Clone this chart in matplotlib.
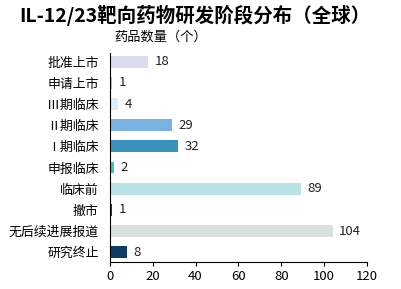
import matplotlib.pyplot as plt

plt.rcParams['font.family'] = ['Noto Sans CJK SC', 'DejaVu Sans']

# Data (top to bottom as shown)
stages = ['批准上市', '申请上市', 'Ⅲ期临床', 'Ⅱ期临床', 'Ⅰ期临床',
          '申报临床', '临床前', '撤市', '无后续进展报道', '研究终止']
counts = [18, 1, 4, 29, 32, 2, 89, 1, 104, 8]
colors = ['#dcdcf0', '#bdbdbd', '#dcedf9', '#78b3e1', '#3a93bf',
          '#3fc7b3', '#b8e2e8', '#1b3c5a', '#d8e1dc', '#0e3c66']
xticks = [0, 20, 40, 60, 80, 100, 120]

fig = plt.figure(figsize=(4.01, 2.89), dpi=100)
ax = fig.add_axes([0.274, 0.093, 0.641, 0.724])

ypos = list(range(len(stages)))[::-1]
ax.barh(ypos, counts, height=0.56, color=colors)

for y, v in zip(ypos, counts):
    ax.text(v + 3, y, str(v), va='center', ha='left', fontsize=9.5, color='#222222')

ax.set_xlim(0, 120)
ax.set_ylim(-0.47, 9.42)
ax.set_xticks(xticks)
ax.set_xticklabels([str(t) for t in xticks], fontsize=9.5)
ax.set_yticks(ypos)
ax.set_yticklabels(stages, fontsize=9.3)
ax.tick_params(axis='y', length=0, pad=8)
ax.tick_params(axis='x', length=3, pad=3)

for s in ['top', 'right']:
    ax.spines[s].set_visible(False)
ax.spines['left'].set_color('black')
ax.spines['bottom'].set_color('black')

fig.text(0.485, 0.948, 'IL-12/23靶向药物研发阶段分布（全球）', ha='center', va='center',
         fontsize=14, fontweight='bold')
fig.text(0.4, 0.872, '药品数量（个）', ha='center', va='center', fontsize=9.5)

fig.savefig('out.png', dpi=100)
